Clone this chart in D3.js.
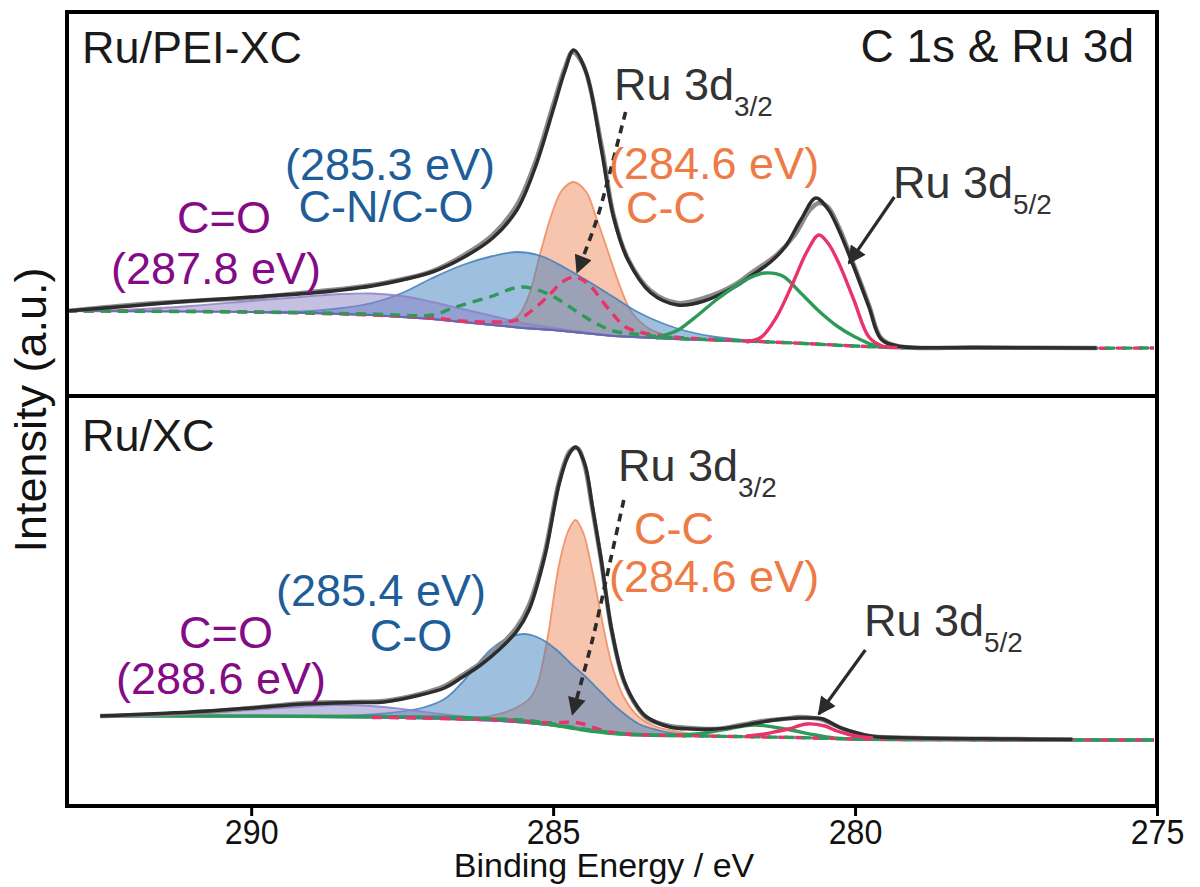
<!DOCTYPE html>
<html>
<head>
<meta charset="utf-8">
<script src="https://cdn.jsdelivr.net/npm/d3@7"></script>
<style>
  body { margin: 0; background: #fff; }
  text { font-family: "Liberation Sans", Arial, sans-serif; }
</style>
</head>
<body>
<svg id="chart" width="1200" height="887"></svg>
<script>
// x axis (binding energy, reversed)
const xDomain = [293.05, 275];
const xTicks = [290, 285, 280, 275];

// ---- top panel : Ru/PEI-XC  (intensity a.u.) ----
const topBackground = [[293.05,84],[291,83.5],[290,83],[289,82],[288,80],[287,76],[286.5,73],[286,70],[285.5,67],[285,65],[284.5,62],[284,59],[283.5,57.5],[283,56],[282,54],[281,52],[280.5,50.5],[280,49],[279.5,47.5],[279,47],[277,47],[275.05,47]];
const topRaw = [[293.05,84],[292,90],[291,94],[290,97],[289,103],[288,110],[287,124],[286.5,139],[286,160],[285.6,190],[285.3,232],[285,290],[284.8,328],[284.68,343],[284.5,330],[284.2,250],[284,180],[283.76,136],[283.38,104],[282.94,92],[282.5,97],[282,110],[281.7,123],[281.3,140],[281,160],[280.75,185],[280.6,192],[280.45,188],[280.27,168],[280.02,130],[279.77,90],[279.57,57],[279.3,49],[278,47.5],[276,47]];
const topEnvelope = [[293.05,84],[292,89],[291,94],[290,98],[289,102],[288.5,105],[288,109],[287.5,115],[287,123],[286.5,137],[286,157],[285.6,185],[285.3,227],[285,285],[284.8,325],[284.66,345],[284.45,322],[284.2,245],[284,178],[283.76,135],[283.38,102],[282.94,90],[282.5,94],[282,108],[281.7,120],[281.4,133],[281.16,148],[280.9,175],[280.65,197],[280.45,186],[280.27,165],[280.02,128],[279.77,88],[279.57,56],[279.3,49],[278,47.5],[276,47]];
const topCC = [[287,76],[286.5,73.5],[286,71.5],[285.6,78],[285.4,100],[285.2,145],[285,185],[284.85,205],[284.66,213],[284.45,203],[284.3,180],[284.1,145],[283.9,110],[283.7,83],[283.4,66],[283,58],[282.5,55],[282,54]];
const topCO = [[290,83],[289,84],[288.5,87],[288,92],[287.5,102],[287,117],[286.5,130],[286,139],[285.6,143],[285.2,139],[284.8,127],[284.4,113],[284,98],[283.6,83],[283.2,72],[282.8,64],[282.3,58],[281.5,53.5],[280.5,50.5],[280,49]];
const topCdO = [[293.05,84],[292,85.5],[291,89],[290,94],[289,99],[288.5,101],[288,101.5],[287.5,99],[287,93],[286.5,86],[286,79],[285.5,72],[285,67],[284.5,63],[284,59.5],[283,56],[282,54]];
const topRu32a = [[293.05,84],[290,83],[288,80],[287,77],[286.5,74],[286,73],[285.6,75],[285.3,87],[285.05,101],[284.85,113],[284.63,118],[284.4,110],[284.2,95],[284,80],[283.8,68],[283.5,62],[283,58],[282,54.5],[281,52],[280,49],[279,47],[275.05,47]];
const topRu32b = [[293.05,84],[290,83],[288,81],[287,80],[286.7,86],[286.4,92],[286,99],[285.7,106],[285.5,108],[285.2,104],[284.9,95],[284.6,83],[284.3,72],[284,64],[283.5,60],[283,57],[282,54.5],[281,52],[280,49],[279,47],[275.05,47]];
const topRu52a = [[281.8,53],[281.55,58],[281.3,78],[281.03,112],[280.8,143],[280.6,160],[280.45,152],[280.27,132],[280.02,95],[279.77,58],[279.55,49],[279.3,47.5]];
const topRu52b = [[283.3,57],[283,63],[282.9,66],[282.6,80],[282.3,95],[282,108],[281.75,117],[281.5,122],[281.2,119],[280.9,102],[280.6,84],[280.3,69],[280,58],[279.7,50],[279.4,47.5]];

// ---- bottom panel : Ru/XC ----
const botBackground = [[292.5,65],[290,64.5],[288,63.5],[287,62.5],[286,60.5],[285.5,58.5],[285,55.5],[284.6,52.5],[284.2,49.5],[283.8,47],[283,45.5],[282,44.5],[281,43.5],[280,42],[279,41.5],[275.05,41]];
const botRaw = [[292.5,65],[291,68],[290,73],[289.1,78],[288.3,79],[287.8,80],[287.2,87],[286.8,95],[286.5,106],[286.2,118],[285.9,134],[285.6,154],[285.4,176],[285.14,228],[284.9,300],[284.72,330],[284.6,333],[284.48,316],[284.35,272],[284.21,222],[284.03,150],[283.83,100],[283.6,73],[283.45,63],[283.07,55],[282.7,53],[282.3,52],[281.9,56],[281.54,60],[281.2,62],[280.91,64],[280.7,63],[280.53,61],[280.27,54],[280.02,48],[279.7,44.5],[279,43],[277.5,42],[276.4,41.5]];
const botEnvelope = [[292.5,65],[291,69],[290,73],[289.1,77],[288.3,78.5],[287.8,79],[287.2,86],[286.8,93],[286.5,104],[286.2,116],[285.9,131],[285.6,150],[285.4,171],[285.14,224],[284.9,297],[284.75,325],[284.63,334],[284.48,318],[284.35,275],[284.21,224],[284.03,151],[283.83,101],[283.6,74],[283.45,64],[283.07,54],[282.7,52],[282.3,52],[281.9,55],[281.54,59],[281.2,62],[280.91,63],[280.7,63],[280.53,62],[280.27,54],[280.02,49],[279.7,44.5],[279,43],[277.5,42],[276.4,41.5]];
const botCC = [[287,62.5],[286.5,62],[285.9,67],[285.59,74],[285.4,82],[285.27,95],[285.15,125],[285.07,151],[284.9,217],[284.75,250],[284.63,261],[284.5,248],[284.35,210],[284.21,167],[284.03,117],[283.83,84],[283.58,64],[283.32,55],[283,50],[282.5,46],[282,44.5]];
const botCO = [[289.5,64],[289,64.5],[288.3,65.5],[287.81,67.5],[287.18,73],[286.8,82],[286.53,97],[286.04,131],[285.75,143],[285.46,147],[285.2,142],[284.94,131],[284.7,117],[284.44,103],[284.21,89],[283.9,71],[283.58,57],[283.27,51],[283,47.5],[282.5,45.5],[282,44.5]];
const botCdO = [[292.5,65],[291.5,66.5],[291,68],[290,71],[289,75],[288.6,76],[288,75],[287.5,72],[287,68],[286.5,64.5],[286,61.5],[285,56],[284,49],[283,46],[282,44.5]];
const botRu32a = [[288,63.5],[287.3,63],[286.5,62],[285.5,60],[285,58],[284.7,59],[284.5,57],[284.2,51],[283.8,47],[283,45.5],[282,44.5],[281,43.5],[280,42],[279,41.5],[275.05,41]];
const botRu32b = [[286.5,63],[286,62],[285.5,61],[285,57],[284.6,53],[284.2,49.5],[283.8,47],[283,45.5],[282,44.5],[281,43.5],[280,42],[279,41.5],[275.05,41]];
const botRu52a = [[281.8,45],[281.5,47],[281.3,49.5],[281.1,52],[280.8,57],[280.5,55],[280.3,50],[280,45],[279.7,43]];
const botRu52b = [[292.5,65],[290,65],[288,64.5],[286.5,63.5],[286,62],[285.5,60],[285,56],[284.5,51],[284,47.5],[283.5,46],[283,45.5],[282.62,47],[282.2,51],[281.67,56],[281.16,52],[280.65,46],[280.27,42.5],[279.5,41.5],[277,41],[275.05,41]];

// arrows [eV, intensity]
const topArrow32 = [[283.8,283],[284.05,225],[284.28,175],[284.6,123]];
const topArrow52 = [[279.35,198],[280.1,132]];
const botArrow32 = [[283.83,281],[284.05,221],[284.35,141],[284.68,67]];
const botArrow52 = [[279.83,131],[280.6,67]];

const colors = {
    cc: '#f08a5d', co: '#3f7fbd', cdo: '#8a82c6',
    red: '#e8336b', green: '#2e9a5a', env: '#2d2d2d', raw: '#8c8c8c',
    tPurple: '#850a85', tBlue: '#1e5d98', tOrange: '#ee7a45', tDark: '#333333'
};

const svg = d3.select('#chart');
const boxLeft = 67, boxRight = 1157, boxTop = 12, boxMid = 396, boxBottom = 806;

const x = d3.scaleLinear().domain(xDomain).range([boxLeft, boxRight]);

// arrow head
svg.append('defs').append('marker')
    .attr('id', 'head')
    .attr('viewBox', '0 0 10 10')
    .attr('refX', 9).attr('refY', 5)
    .attr('markerUnits', 'userSpaceOnUse')
    .attr('markerWidth', 26).attr('markerHeight', 18)
    .attr('orient', 'auto')
    .append('path').attr('d', 'M0,0 L10,5 L0,10 z').attr('fill', '#2b2b2b');

// zero: pixel row of intensity 0 in each panel
const panels = [
    { zero: 395, base: topBackground, raw: topRaw, env: topEnvelope, cc: topCC, co: topCO, cdo: topCdO,
      r32a: topRu32a, r32b: topRu32b, r52a: topRu52a, r52b: topRu52b, a32: topArrow32, a52: topArrow52, greenFirst: false },
    { zero: 781, base: botBackground, raw: botRaw, env: botEnvelope, cc: botCC, co: botCO, cdo: botCdO,
      r32a: botRu32a, r32b: botRu32b, r52a: botRu52a, r52b: botRu52b, a32: botArrow32, a52: botArrow52, greenFirst: true }
];

function drawPanel(p) {
    const y = d3.scaleLinear().domain([0, 100]).range([p.zero, p.zero - 100]);
    const g = svg.append('g');
    const line = d3.line().x(d => x(d[0])).y(d => y(d[1])).curve(d3.curveCatmullRom.alpha(0.5));
    const straight = d3.line().x(d => x(d[0])).y(d => y(d[1]));

    // component filled down to the background
    function fillPath(comp) {
        const hi = comp[0][0], lo = comp[comp.length - 1][0];
        const seg = p.base.filter(d => d[0] < hi && d[0] > lo).reverse();
        const bottomPts = [comp[comp.length - 1]].concat(seg, [comp[0]]);
        return line(comp) + 'L' + straight(bottomPts).slice(1) + 'Z';
    }

    [['cc', 0.5], ['co', 0.5], ['cdo', 0.5]].forEach(([k, a]) => {
        g.append('path')
            .attr('d', fillPath(p[k]))
            .attr('fill', colors[k]).attr('fill-opacity', a)
            .attr('stroke', colors[k]).attr('stroke-opacity', 0.85)
            .attr('stroke-width', 1.8);
    });

    g.append('path').attr('d', straight(p.base))
        .attr('fill', 'none').attr('stroke', '#5b5fa8').attr('stroke-width', 2.2).attr('stroke-opacity', 0.75);

    if (p.greenFirst) {
        g.append('path').attr('d', line(p.r52b)).attr('fill', 'none')
            .attr('stroke', colors.green).attr('stroke-width', 3.4);
    }
    g.append('path').attr('d', line(p.r32a)).attr('fill', 'none')
        .attr('stroke', colors.red).attr('stroke-width', 3.4).attr('stroke-dasharray', '10,7');
    g.append('path').attr('d', line(p.r32b)).attr('fill', 'none')
        .attr('stroke', colors.green).attr('stroke-width', 3.4).attr('stroke-dasharray', '10,7');

    g.append('path').attr('d', line(p.raw)).attr('fill', 'none')
        .attr('stroke', colors.raw).attr('stroke-width', 4.5);
    g.append('path').attr('d', line(p.env)).attr('fill', 'none')
        .attr('stroke', colors.env).attr('stroke-width', 3.5);

    if (!p.greenFirst) {
        g.append('path').attr('d', line(p.r52b)).attr('fill', 'none')
            .attr('stroke', colors.green).attr('stroke-width', 3.4);
    }
    g.append('path').attr('d', line(p.r52a)).attr('fill', 'none')
        .attr('stroke', colors.red).attr('stroke-width', 3.4);

    // arrows
    g.append('path').attr('d', line(p.a32)).attr('fill', 'none')
        .attr('stroke', '#2b2b2b').attr('stroke-width', 3.6).attr('stroke-dasharray', '8,6')
        .attr('marker-end', 'url(#head)');
    g.append('path').attr('d', straight(p.a52)).attr('fill', 'none')
        .attr('stroke', '#2b2b2b').attr('stroke-width', 3.2)
        .attr('marker-end', 'url(#head)');
}

panels.forEach(drawPanel);

// labels
function label(tx, ty, str, color, size, anchor, sub) {
    const t = svg.append('text')
        .attr('x', tx).attr('y', ty)
        .attr('fill', color)
        .attr('font-size', size)
        .attr('text-anchor', anchor || 'start')
        .text(str);
    if (sub) t.append('tspan').attr('dy', 16).attr('font-size', size * 0.62).text(sub);
    return t;
}

label(82, 63, 'Ru/PEI-XC', '#1a1a1a', 45);
label(1134, 62, 'C 1s & Ru 3d', '#1a1a1a', 46, 'end');
label(390, 180, '(285.3 eV)', colors.tBlue, 45, 'middle');
label(386, 222, 'C-N/C-O', colors.tBlue, 45, 'middle');
label(224, 233, 'C=O', colors.tPurple, 45, 'middle');
label(216, 284, '(287.8 eV)', colors.tPurple, 45, 'middle');
label(614, 100, 'Ru 3d', colors.tDark, 45, 'start', '3/2');
label(609, 179, '(284.6 eV)', colors.tOrange, 45);
label(626, 223, 'C-C', colors.tOrange, 45);
label(893, 198, 'Ru 3d', colors.tDark, 45, 'start', '5/2');

label(82, 451, 'Ru/XC', '#1a1a1a', 45);
label(381, 606, '(285.4 eV)', colors.tBlue, 45, 'middle');
label(411, 651, 'C-O', colors.tBlue, 45, 'middle');
label(226, 648, 'C=O', colors.tPurple, 45, 'middle');
label(221, 694, '(288.6 eV)', colors.tPurple, 45, 'middle');
label(618, 481, 'Ru 3d', colors.tDark, 45, 'start', '3/2');
label(634, 544, 'C-C', colors.tOrange, 45);
label(609, 592, '(284.6 eV)', colors.tOrange, 45);
label(864, 636, 'Ru 3d', colors.tDark, 45, 'start', '5/2');

// frame
svg.append('rect')
    .attr('x', boxLeft).attr('y', boxTop)
    .attr('width', boxRight - boxLeft).attr('height', boxBottom - boxTop)
    .attr('fill', 'none').attr('stroke', '#000').attr('stroke-width', 4);
svg.append('line')
    .attr('x1', boxLeft).attr('x2', boxRight).attr('y1', boxMid).attr('y2', boxMid)
    .attr('stroke', '#000').attr('stroke-width', 4);

// x axis
const xAxis = svg.append('g')
    .attr('transform', 'translate(0,' + boxBottom + ')')
    .call(d3.axisBottom(x).tickValues(xTicks).tickSize(10).tickPadding(3).tickFormat(d3.format('d')));
xAxis.select('.domain').remove();
xAxis.selectAll('.tick line').attr('stroke', '#000').attr('stroke-width', 3);
xAxis.selectAll('.tick text')
    .attr('font-size', 35).attr('fill', '#111')
    .attr('transform', 'scale(0.92,1)')
    .attr('font-family', '"Liberation Sans", Arial, sans-serif');

svg.append('text')
    .attr('x', 604).attr('y', 877)
    .attr('text-anchor', 'middle')
    .attr('font-size', 34).attr('fill', '#111')
    .text('Binding Energy / eV');

svg.append('text')
    .attr('transform', 'translate(46,410) rotate(-90)')
    .attr('text-anchor', 'middle')
    .attr('font-size', 45).attr('fill', '#111')
    .text('Intensity (a.u.)');
</script>
</body>
</html>
